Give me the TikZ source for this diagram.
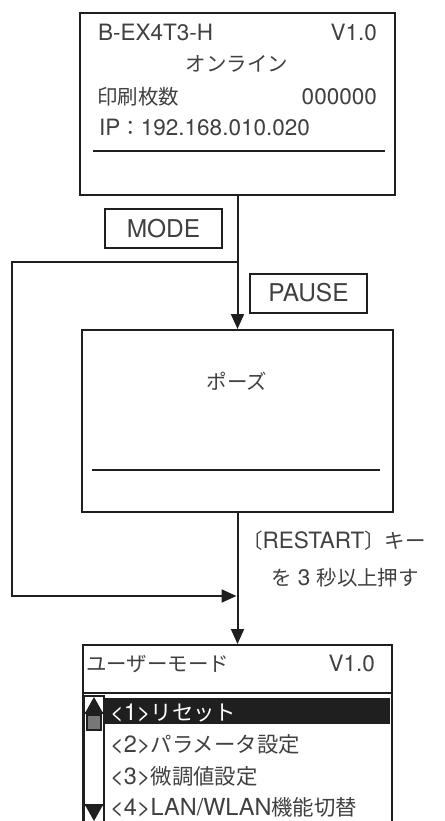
\documentclass[tikz,border=0pt]{standalone}
\usepackage{fontspec}
\setmainfont{TeX Gyre Heros}
\newfontfamily\jpfont{Noto Sans CJK JP}[Scale=0.91]
\newcommand\J[1]{{\jpfont #1}}
\usetikzlibrary{arrows.meta}
\definecolor{txt}{HTML}{404040}
\definecolor{ln}{HTML}{1F1F1F}
\definecolor{thumb}{HTML}{777777}
\begin{document}
\begin{tikzpicture}[x=1pt,y=-1pt,
  font=\fontsize{22.5}{26}\selectfont, text=txt,
  box/.style={draw=ln, line width=2pt, inner sep=0pt},
  keybox/.style={draw=ln, line width=2pt, minimum width=117pt, minimum height=39pt, inner sep=0pt, font=\fontsize{24.5}{28}\selectfont},
  conn/.style={draw=ln, line width=2pt},
  arr/.style={conn, -{Triangle[length=15pt,width=13pt]}},
  lbl/.style={inner sep=0pt},
  menu/.style={lbl, anchor=base west, font=\fontsize{23.5}{27}\selectfont},
  sep/.style={draw=ln, line width=2pt}]
\useasboundingbox (0,0) rectangle (444,821);
\clip (0,0) rectangle (444,821);

% top display
\node[box, minimum width=315pt, minimum height=182pt] (online) at (237.5,104) {};
\node[lbl, anchor=base west] (t1) at (98,41) {B-EX4T3-H};
\node[lbl, anchor=base east] (t2) at (377,41) {V1.0};
\node[lbl, anchor=base] (t3) at (237,72) {\J{オンライン}};
\node[lbl, anchor=base west] (t4) at (97,105) {\J{印刷枚数}};
\node[lbl, anchor=base east] (t5) at (377,105) {000000};
\node[lbl, anchor=base west] (t6) at (99,136) {IP\J{：}192.168.010.020};
\draw[sep] (93,151) -- (385,151);

% keys
\node[keybox] (mode) at (163.5,228.5) {MODE};
\node[keybox] (pause) at (308.5,293) {PAUSE};

% pause display
\node[box, minimum width=311pt, minimum height=182pt] (pbox) at (237.5,421) {};
\node[lbl, anchor=base] (p1) at (237,389) {\J{ポーズ}};
\draw[sep] (92,470) -- (380,470);

% user mode display
\node[box, minimum width=309pt, minimum height=260pt, anchor=north] (user) at (237.5,644) {};
\node[lbl, anchor=base west] (u1) at (86,671) {\J{ユーザーモード}};
\node[lbl, anchor=base east] (u2) at (375,671) {V1.0};
\draw[draw=ln, line width=2.5pt] (83,693) -- (392,693);
\fill[ln] (105,698) rectangle (390,724);
\node[menu, text=white] (m1) at (110,720) {<1>\J{リセット}};
\node[menu] (m2) at (110,752) {<2>\J{パラメータ設定}};
\node[menu] (m3) at (110,784) {<3>\J{微調値設定}};
\node[menu] (m4) at (110,815) {<4>LAN/WLAN\J{機能切替}};
% scrollbar
\draw[draw=ln, line width=1.6pt, fill=white] (84,696) rectangle (104,840);
\fill[ln] (94,697) -- (103,713) -- (85,713) -- cycle;
\draw[draw=ln, line width=1.2pt] (85,713) -- (103,713);
\draw[draw=ln, line width=1.2pt, fill=thumb] (87,715) rectangle (101,730);
\draw[draw=ln, line width=1.2pt] (85,805) -- (103,805);
\fill[ln] (85,805) -- (103,805) -- (94,821) -- cycle;

% label
\node[lbl, anchor=base west] (r1) at (242,548) {\J{〔}RESTART\J{〕キー}};
\node[lbl, anchor=base] (r2) at (345,585) {\J{を} 3 \J{秒以上押す}};

% connectors
\coordinate (j1) at (237.5,262);
\coordinate (j2) at (236.5,596);
\draw[arr] (online.south) -- (pbox.north);
\draw[arr] (j1) -- (12,262) -- (12,596) -- (j2);
\draw[arr] (pbox.south) -- (user.north);
\end{tikzpicture}
\end{document}
